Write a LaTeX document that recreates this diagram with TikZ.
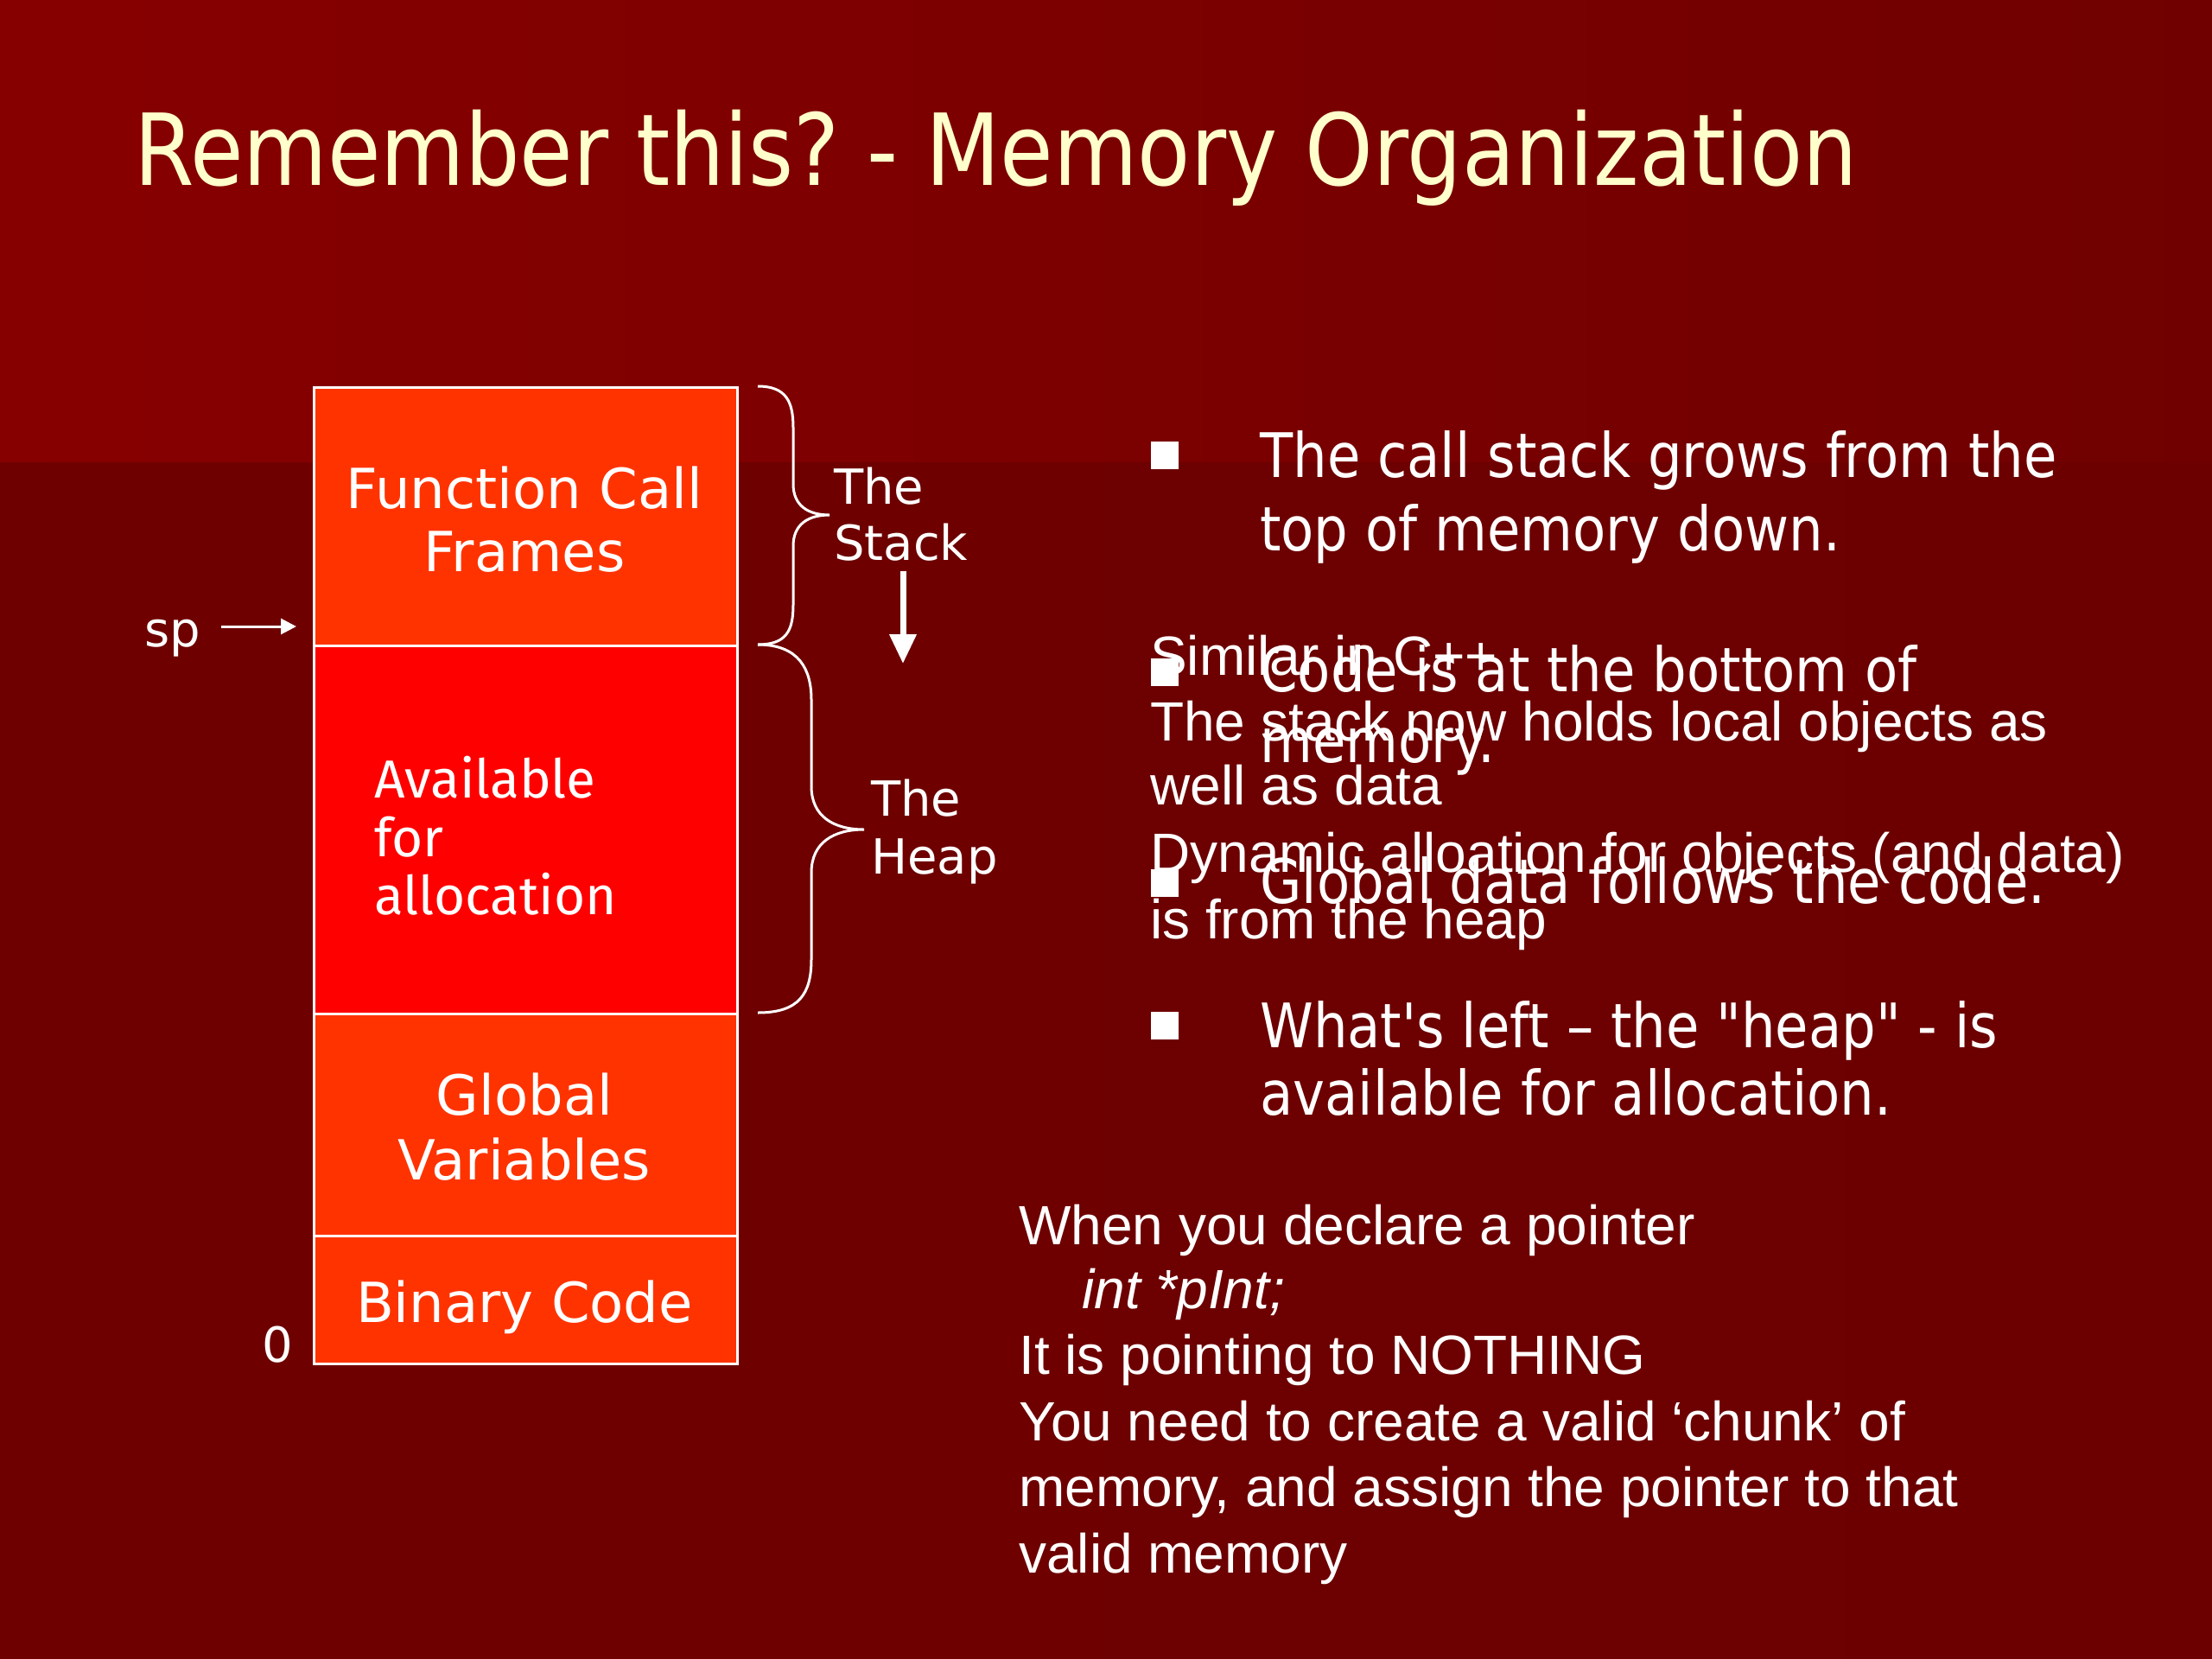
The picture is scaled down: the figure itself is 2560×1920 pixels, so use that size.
\documentclass[tikz,border=0pt]{standalone}
\usepackage{fontspec}
\usetikzlibrary{arrows.meta}
\newfontfamily\tah[FakeStretch=0.88]{DejaVu Sans}
\newfontfamily\titlefont[FakeStretch=0.87]{DejaVu Sans}
\newfontfamily\verd{DejaVu Sans}
\newfontfamily\ari{Liberation Sans}
\newfontfamily\comic{Fira Sans}
\definecolor{bandL}{HTML}{870000}
\definecolor{bandR}{HTML}{700000}
\definecolor{lowL}{HTML}{6F0000}
\definecolor{lowR}{HTML}{6C0000}
\definecolor{cream}{HTML}{FFFFCC}
\definecolor{orangeblk}{HTML}{FF3300}
\definecolor{redblk}{HTML}{FF0000}
\frenchspacing
\begin{document}
\begin{tikzpicture}[x=1pt,y=-1pt,
  memblock/.style={draw=white,line width=3pt,minimum width=490pt,inner sep=0pt,anchor=north west},
  boxlbl/.style={text=white,font=\verd\fontsize{64}{74}\selectfont,anchor=base,inner sep=0pt},
  sidelbl/.style={text=white,font=\verd\fontsize{56}{64}\selectfont,anchor=base west,inner sep=0pt},
  comiclbl/.style={text=white,font=\comic\fontsize{62}{70}\selectfont,anchor=base west,inner sep=0pt},
  bultxt/.style={text=white,font=\tah\fontsize{71}{80}\selectfont,anchor=base west,inner sep=0pt},
  bsq/.style={fill=white,minimum size=32pt,inner sep=0pt},
  aritxt/.style={text=white,font=\ari\fontsize{64}{76}\selectfont,anchor=base west,inner sep=0pt},
  bracepath/.style={draw=white,line width=3pt},
  thinarrow/.style={draw=white,line width=3pt,-{Triangle[length=18pt,width=18pt]}},
  thickarrow/.style={draw=white,line width=7pt,-{Triangle[length=34pt,width=30pt]}}
]
% background
\useasboundingbox (0,0) rectangle (2560,1920);
\shade[left color=lowL,right color=lowR] (0,534) rectangle (2560,1920);
\shade[left color=bandL,right color=bandR] (0,0) rectangle (2560,534);

% title
\node[text=cream,font=\titlefont\fontsize{115}{130}\selectfont,anchor=base west,inner sep=0pt] (title) at (155,214) {Remember this? - Memory Organization};

% memory blocks
\node[memblock,fill=orangeblk,minimum height=299pt] (fcf) at (362,447) {};
\node[memblock,fill=redblk,minimum height=426pt] (avail) at (362,746) {};
\node[memblock,fill=orangeblk,minimum height=257pt] (glob) at (362,1172) {};
\node[memblock,fill=orangeblk,minimum height=148pt] (bin) at (362,1429) {};

\node[boxlbl] (fcf1) at (607,588) {Function Call};
\node[boxlbl] (fcf2) at (607,661) {Frames};
\node[comiclbl] (av1) at (433,923) {Available};
\node[comiclbl] (av2) at (433,991) {for};
\node[comiclbl] (av3) at (433,1058) {allocation};
\node[boxlbl] (gl1) at (607,1290) {Global};
\node[boxlbl] (gl2) at (607,1365) {Variables};
\node[boxlbl] (bc) at (607,1530) {Binary Code};

% sp pointer and zero
\node[sidelbl] (sp) at (167,748) {sp};
\coordinate (spa) at (256,725);
\coordinate (spb) at (343,725);
\draw[thinarrow] (spa) -- (spb);
\node[sidelbl] (zero) at (303,1576) {0};

% braces
\draw[bracepath] (877,447) .. controls (910,447) and (918,465) .. (918,495)
  -- (918,560) .. controls (918,585) and (935,596) .. (960,596)
  .. controls (935,596) and (918,607) .. (918,632)
  -- (918,700) .. controls (918,730) and (910,746) .. (877,746);
\draw[bracepath] (877,746) .. controls (925,746) and (939,775) .. (939,810)
  -- (939,910) .. controls (939,945) and (965,960) .. (1000,960)
  .. controls (965,960) and (939,975) .. (939,1010)
  -- (939,1110) .. controls (939,1150) and (925,1172) .. (877,1172);

\node[sidelbl] (st1) at (965,583) {The};
\node[sidelbl] (st2) at (965,648) {Stack};
\coordinate (sa1) at (1045,661);
\coordinate (sa2) at (1045,768);
\draw[thickarrow] (sa1) -- (sa2);
\node[sidelbl] (hp1) at (1008,944) {The};
\node[sidelbl] (hp2) at (1008,1011) {Heap};

% bullets
\node[bsq] (b1) at (1348,527) {};
\node[bultxt] (b1a) at (1458,552) {The call stack grows from the};
\node[bultxt] (b1b) at (1458,637) {top of memory down.};
\node[bsq] (b2) at (1348,778) {};
\node[bultxt] (b2a) at (1458,800) {Code is at the bottom of};
\node[bultxt] (b2b) at (1458,882) {memory.};
\node[bsq] (b3) at (1348,1022) {};
\node[bultxt] (b3a) at (1458,1045) {Global data follows the code.};
\node[bsq] (b4) at (1348,1187) {};
\node[bultxt] (b4a) at (1458,1212) {What's left – the "heap" - is};
\node[bultxt] (b4b) at (1458,1290) {available for allocation.};

% overlay text
\node[aritxt] (c1) at (1331,781) {Similar in C++};
\node[aritxt] (c2) at (1331,857) {The stack now holds local objects as};
\node[aritxt] (c3) at (1331,931) {well as data};
\node[aritxt] (c4) at (1331,1009) {Dynamic alloation for objects (and data)};
\node[aritxt] (c5) at (1331,1086) {is from the heap};

% bottom text
\node[aritxt] (p1) at (1179,1440) {When you declare a pointer};
\node[aritxt,font=\ari\itshape\fontsize{64}{76}\selectfont] (p2) at (1252,1514) {int *pInt;};
\node[aritxt] (p3) at (1179,1590) {It is pointing to NOTHING};
\node[aritxt] (p4) at (1179,1667) {You need to create a valid ‘chunk’ of};
\node[aritxt] (p5) at (1179,1743) {memory, and assign the pointer to that};
\node[aritxt] (p6) at (1179,1820) {valid memory};
\end{tikzpicture}
\end{document}
